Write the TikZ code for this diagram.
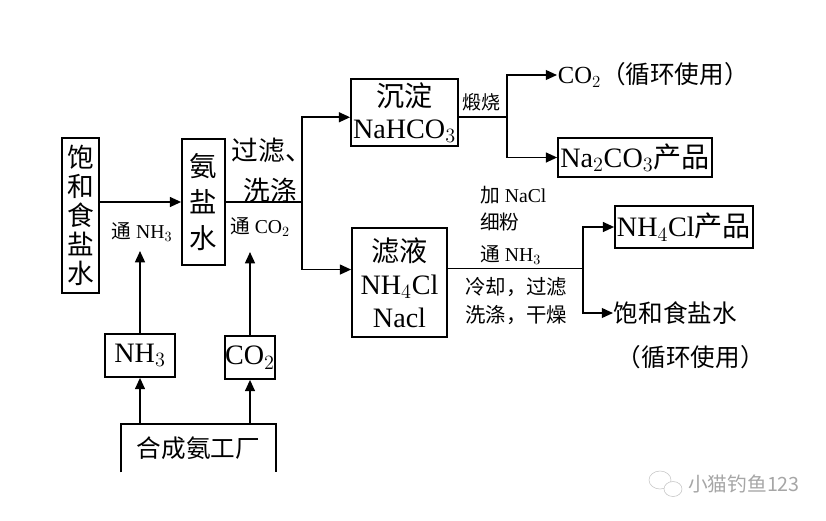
\documentclass[tikz,border=0pt]{standalone}
\usepackage{fontspec}
\setmainfont{Liberation Serif}
\newfontfamily\zhfont{Noto Sans CJK SC}
\newcommand{\zh}[1]{{\zhfont #1}}
\usetikzlibrary{arrows.meta}
\tikzset{
  box/.style={draw, line width=1.2pt, inner sep=0pt, align=center},
  wire/.style={line width=1.2pt},
  flow/.style={line width=1.2pt, -{Triangle[length=8pt,width=7pt]}},
  big/.style={font=\fontsize{20}{22}\selectfont},
  mid/.style={font=\fontsize{17.5}{20}\selectfont, inner sep=0.5pt},
  small/.style={font=\fontsize{14}{16}\selectfont, inner sep=0pt},
}
\begin{document}
\begin{tikzpicture}[x=0.025cm, y=-0.025cm]
        \useasboundingbox (0,0) rectangle (826,520);

        % Riquadri a sinistra
        \node[box, font=\zhfont\fontsize{19}{20.6}\selectfont, minimum width=0.925cm, minimum height=3.875cm] (brine) at (80.5,215.5) {饱\\和\\食\\盐\\水};
        \node[box, font=\zhfont\fontsize{19.5}{25.6}\selectfont, minimum width=1.075cm, minimum height=3.15cm] (ammonia) at (203.5,202) {氨\\盐\\水};
        \node[box, big, minimum width=1.75cm, minimum height=1.075cm] (nh3box) at (140,355.5) {NH$_3$};
        \node[box, big, minimum width=1.25cm, minimum height=1.075cm] (co2box) at (250,357.5) {CO$_2$};
        \node[font=\zhfont\fontsize{17.5}{20}\selectfont, minimum width=3.875cm, minimum height=1.2cm] (plant) at (198.5,448) {合成氨工厂};
        \draw[wire] (plant.south west) -- (plant.north west) -- (plant.north east) -- (plant.south east);

        % Riquadri al centro e a destra
        \node[box, font=\fontsize{20}{22.8}\selectfont, minimum width=2.675cm, minimum height=1.675cm] (nahco3) at (404.5,112.5) {\zh{沉淀}\\NaHCO$_3$};
        \node[box, font=\fontsize{20}{23.5}\selectfont, minimum width=2.375cm, minimum height=2.725cm] (filtrate) at (399.5,282.5) {\zh{滤液}\\NH$_4$Cl\\Nacl};
        \node[box, big, minimum width=3.85cm, minimum height=0.975cm] (na2co3) at (635,157.5) {Na$_2$CO$_3$\zh{产品}};
        \node[box, big, minimum width=3.45cm, minimum height=1.05cm] (nh4cl) at (684,227) {NH$_4$Cl\zh{产品}};
        \node[mid, anchor=west] (co2out) at (557,75) {CO$_2$\zh{（循环使用）}};
        \node[mid, anchor=west] (brineout) at (613,313) {\zh{饱和食盐水}};
        \node[mid, anchor=west] (recycle) at (616,357) {\zh{（循环使用）}};

        % Frecce
        \draw[flow] (brine.east |- ammonia.west) -- (ammonia.west);
        \coordinate (nh3in) at (140,251);
        \coordinate (co2in) at (250,252);
        \draw[flow] (nh3box.north) -- (nh3in);
        \draw[flow] (co2box.north) -- (co2in);
        \draw[flow] (plant.north -| nh3box.south) -- (nh3box.south);
        \draw[flow] (plant.north -| co2box.south) -- (co2box.south);

        \coordinate (j1) at (302,202);
        \draw[wire] (ammonia.east) -- (j1);
        \draw[flow] (j1) |- (nahco3.185);
        \draw[flow] (j1) |- (filtrate.165);

        \draw[wire] (nahco3.355) -- ++(48,0) coordinate (j2);
        \draw[flow] (j2) |- (co2out.west);
        \draw[flow] (j2) |- (na2co3.west);

        \draw[wire] (filtrate.16) -- ++(135,0) coordinate (j3);
        \draw[flow] (j3) |- (nh4cl.west);
        \draw[flow] (j3) |- (brineout.west);

        % Scritte sulle frecce
        \node[small] (l1) at (142,232) {\zh{通} NH$_3$};
        \node[font=\zhfont\fontsize{19}{20}\selectfont, inner sep=0pt] (l2) at (272,150) {过滤、};
        \node[font=\zhfont\fontsize{19}{20}\selectfont, inner sep=0pt] (l3) at (270,190) {洗涤};
        \node[small] (l4) at (260,227) {\zh{通} CO$_2$};
        \node[small, font=\zhfont\fontsize{13.5}{15}\selectfont] (l5) at (481,102) {煅烧};
        \node[small, anchor=west] (l6) at (480,195) {\zh{加} NaCl};
        \node[small, anchor=west, font=\zhfont\fontsize{14}{16}\selectfont] (l7) at (480,222) {细粉};
        \node[small, anchor=west] (l8) at (480,255) {\zh{通} NH$_3$};
        \node[small, anchor=west, font=\zhfont\fontsize{14.5}{16}\selectfont] (l9) at (465,287) {冷却，过滤};
        \node[small, anchor=west, font=\zhfont\fontsize{14.5}{16}\selectfont] (l10) at (465,315) {洗涤，干燥};

        % Filigrana
        \draw[gray!45] (660,480) ellipse (11 and 9);
        \draw[gray!45, fill=white] (673,489) ellipse (9 and 7.5);
        \node[anchor=west, text=gray!70, font=\zhfont\fontsize{14}{16}\selectfont, inner sep=0pt] (mark) at (688,484) {小猫钓鱼123};
    \end{tikzpicture}
\end{document}
